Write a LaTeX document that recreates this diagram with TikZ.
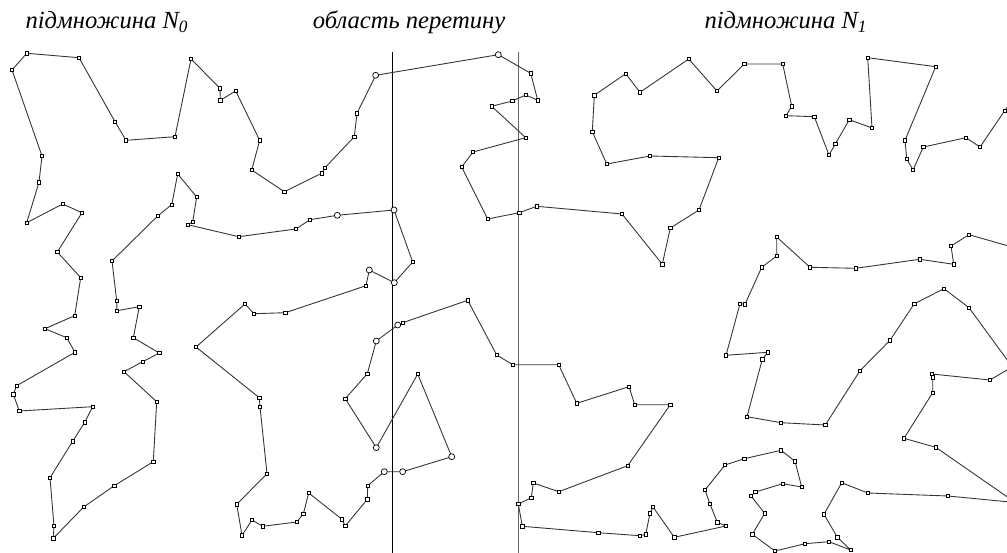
\documentclass[tikz,border=0pt]{standalone}
\usepackage{fontspec}
\setmainfont{Liberation Serif}
\usepackage{tikz}

% vertices of the routes
\def\routeMain{(1012,100), (1004.7,110.7), (980,147), (966,137.7), (923.3,147), (913,170),
  (906.7,158.7), (905,140.3), (935.7,66.7), (867.7,57.7), (872,128), (849.3,119.7),
  (835.3,144), (829,155), (814.3,116.7), (786,115.7), (791.7,106.3), (782.7,64),
  (744.3,64), (717,91), (688.7,59), (640,92.3), (625.7,73.7), (594.3,95.3),
  (592.3,131.7), (606.7,164), (650,156), (718.7,157.7), (699,210), (670.3,228),
  (662.3,264.3), (622,214), (536.7,206.3), (519.3,212.7), (487.7,219), (461.7,167),
  (473,152), (525.7,137.7), (491.7,106.3), (512.3,101), (525.7,95), (537.7,100.3),
  (530.7,73.3), (498.3,54.7), (375.7,75.3), (357,113.3), (354.3,136.7), (325,167.7),
  (321.7,173.3), (284.3,191.7), (251.7,170), (259.7,140.3), (235.7,91), (220.3,100.3),
  (220,88.3), (191,59), (175,136.7), (126,140.3), (115,121.7), (79,57.7),
  (26.7,53.3), (12,70), (42,156), (39,182.3), (26.7,222.7), (62.7,204),
  (82,212.7), (57.3,252), (80.7,277.7), (74.7,315.7), (45,328.7), (66.7,337.7),
  (75,352.3), (16.7,385.7), (13.3,394.3), (19.3,411), (92.7,406.7), (84.7,422.3),
  (72.7,441.3), (50,477.7), (54,526), (53.3,538.3), (83.7,507), (114.3,485.7),
  (153.3,461.7), (156.7,401.7), (124,371.7), (142.7,361.7), (159.3,353), (133.3,337.7),
  (139.3,306.7), (117,310.7), (116.7,300.7), (112,261), (158,215.7), (171.7,204.7),
  (177.7,174), (196.7,197), (192.7,221.7), (187.7,224.7), (238.7,236.7), (296,229),
  (310,219.7), (337.3,215.3), (394,210), (412.7,262), (394.3,282.7), (369.3,270),
  (366,285.7), (285.3,312.7), (254,313.7), (245,304), (196,347), (259.3,397.7),
  (260,406.7), (267,473.7), (236.7,504.3), (242,535.3), (252,520), (262.7,526.3),
  (296.7,522), (303.3,514), (308.7,493), (342,519.3), (345.3,526), (367.3,499.3),
  (367.7,485.7), (384.3,471.7), (402.7,471.7), (451.7,456.7), (417.7,374), (376.3,447.7),
  (345.3,398.7), (367.3,373.7), (376.3,341), (397.7,325), (402.7,322.7), (467.7,300.3),
  (496.7,355), (512.7,364.7), (558.7,364.7), (576.7,403.3), (629,386.7), (634.7,404.7),
  (670.3,404.7), (627.7,465.7), (558.7,491.7), (533.3,483), (531.3,497.7), (518.3,504),
  (522.3,526.3), (598.3,532.7), (640,535.7), (645.7,534.3), (650,513.3), (653,507),
  (674.3,537.3), (726,526), (717.3,522.3), (710,504), (705,490), (725,465),
  (744.3,458.7), (781,450.3), (795,461.3), (801.7,487), (782.7,483.7), (755.3,492),
  (751,496), (764.7,513.3), (752.3,534.3), (775,551), (805,543.7), (829,541.7),
  (850.7,550), (837.3,537.3), (824,514.3), (841.7,482.7), (867.7,493), (948,496),
  (1012,502.2)}
\def\routeLoop{(1012,247), (969,234.7), (951,246), (953.7,264.3), (919.7,259.3), (855.7,268.3),
  (810,267.3), (776.7,237), (776.7,256), (761.7,267.3), (745,304.3), (740,303.7),
  (726,355.3), (767.7,352.3), (762.3,359.3), (747,416.7), (781,422.7), (825.3,425),
  (860,370.7), (890,340.3), (914.3,303.7), (944,288.7), (969,307.7), (1012,366.5)}
\def\routeEdge{(1012,367), (990,380), (931.7,374), (932.7,377.3), (932.7,392.7),
  (904,438.3), (935.7,447.3), (1012,500.2)}
% vertices inside the overlap region
\def\overlapPts{(498.3,54.7), (375.7,75.3), (337.3,215.3), (394,210), (394.3,282.7),
  (369.3,270), (384.3,471.7), (402.7,471.7), (451.7,456.7), (376.3,447.7),
  (376.3,341), (397.7,325)}

\begin{document}
\begin{tikzpicture}[
  x=0.02cm, y=-0.02cm,
  route/.style={black!80, line width=0.5pt, line join=round},
  sq/.style={draw=black, fill=white, rectangle, inner sep=0pt,
    minimum size=1.9pt, line width=0.4pt},
  ov/.style={draw=black, fill=white, line width=0.4pt},
  border/.style={line width=0.6pt},
  caption/.style={font=\fontsize{14}{16}\selectfont\itshape,
    anchor=base, inner sep=0pt}
]

\useasboundingbox (0,0) rectangle (1007,553);
\fill[white] (0,0) rectangle (1007,553);

% captions
\node[caption] (capL) at (107,29) {підмножина N\textsubscript{0}};
\node[caption] (capM) at (409,29) {область перетину};
\node[caption] (capR) at (786,29) {підмножина N\textsubscript{1}};

% borders of the overlap region
\coordinate (lTop) at (392.5,52);
\coordinate (lBot) at (392.5,553);
\coordinate (rTop) at (518.5,52);
\coordinate (rBot) at (518.5,553);
\draw[border] (lTop) -- (lBot);
\draw[border, black!60] (rTop) -- (rBot);

\begin{scope}
\clip (0,0) rectangle (1007,553);

% routes
\draw[route] (1012,100) \foreach \p in \routeMain { -- \p };
\draw[route] (1012,247) \foreach \p in \routeLoop { -- \p };
\draw[route] (1012,367) \foreach \p in \routeEdge { -- \p };

% vertex marks
\foreach \p in \routeMain \node[sq] at \p {};
\foreach \p in \routeLoop \node[sq] at \p {};
\foreach \p in \routeEdge \node[sq] at \p {};
\foreach \p in \overlapPts \draw[ov] \p circle (1.7pt);
\end{scope}

\end{tikzpicture}
\end{document}
